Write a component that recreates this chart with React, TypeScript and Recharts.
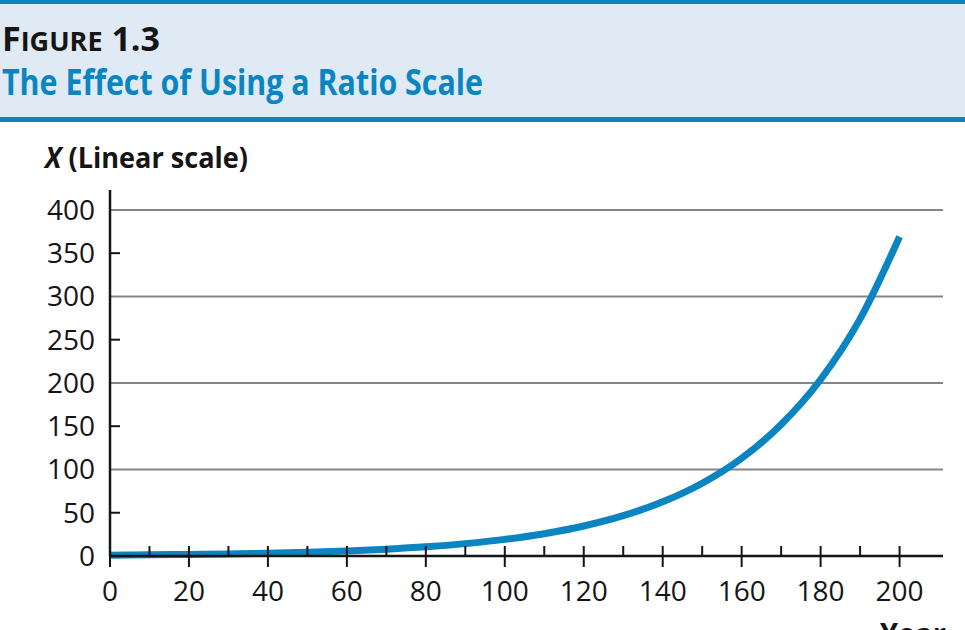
import React from 'react';
import { LineChart, Line, XAxis, YAxis, ReferenceLine, Label } from 'recharts';

// years on the horizontal axis, value of X
const years = [0, 10, 20, 30, 40, 50, 60, 70, 80, 90, 100, 110, 120, 130, 140, 150, 160, 170, 180, 190, 200];
const xValues = [1, 1.34, 1.81, 2.43, 3.26, 4.38, 5.89, 7.92, 10.6, 14.3, 19.2, 25.8, 34.7, 46.6, 62.6, 84.1, 113, 152, 204, 274, 369];

const yearTicks = [0, 10, 20, 30, 40, 50, 60, 70, 80, 90, 100, 110, 120, 130, 140, 150, 160, 170, 180, 190, 200];
const valueTicks = [0, 50, 100, 150, 200, 250, 300, 350, 400];
const gridValues = [100, 200, 300, 400];

const data = years.map((year, i) => ({ year, value: xValues[i] }));

const FONT = "'Open Sans', 'Noto Sans', sans-serif";
const INK = '#151515';
const BLUE = '#0b85c1';
const GRID = '#858585';

const XTick = (props: any) => {
  const { x, y, payload } = props;
  const v = payload.value;
  const major = v % 20 === 0;
  return (
    <g>
      <line x1={x} x2={x} y1={y - 10} y2={major ? y + 11 : y} stroke={INK} strokeWidth={2} />
      {major && (
        <text x={x} y={y + 45} textAnchor="middle" fontSize={28} fontWeight={500} fontFamily={FONT} fill={INK}>
          {v}
        </text>
      )}
    </g>
  );
};

const YTick = (props: any) => {
  const { x, y, payload } = props;
  const v = payload.value;
  const minor = v % 100 !== 0;
  return (
    <g>
      {minor && <line x1={x} x2={x + 10} y1={y} y2={y} stroke={INK} strokeWidth={2} />}
      <text x={x - 15} y={y + 10} textAnchor="end" fontSize={28} fontWeight={500} fontFamily={FONT} fill={INK}>
        {v}
      </text>
    </g>
  );
};

const YTitle = (props: any) => {
  const vb = props.viewBox || { x: 0, y: 190 };
  return (
    <text x={vb.x + 45} y={vb.y - 22} fontSize={29} fontWeight={700} fontFamily={FONT} fill={INK} textLength={203} lengthAdjust="spacingAndGlyphs">
      <tspan fontStyle="italic">X</tspan> (Linear scale)
    </text>
  );
};

const XTitle = (props: any) => {
  const vb = props.viewBox || { x: 110, y: 556, width: 833 };
  return (
    <text x={vb.x + vb.width - 63} y={vb.y + 88} fontSize={29} fontWeight={700} fontFamily={FONT} fill={INK}>
      Year
    </text>
  );
};

const App: React.FC = () => {
  return (
    <div style={{ position: 'absolute', left: 0, top: 0, width: 965, height: 630, background: '#fff', overflow: 'hidden' }}>
      {/* header band */}
      <svg width={965} height={125} style={{ position: 'absolute', left: 0, top: 0 }}>
        <rect x={0} y={0} width={965} height={122} fill="#dfeaf5" />
        <rect x={0} y={0} width={965} height={4} fill={BLUE} />
        <rect x={0} y={117} width={965} height={5} fill={BLUE} />
        <text x={2} y={51} fontFamily={FONT} fontWeight={700} fill={INK} textLength={158} lengthAdjust="spacingAndGlyphs">
          <tspan fontSize={34}>F</tspan>
          <tspan fontSize={27}>IGURE</tspan>
          <tspan fontSize={34}> 1.3</tspan>
        </text>
        <text x={2} y={95} fontFamily={FONT} fontWeight={700} fontSize={35} fill={BLUE} textLength={481} lengthAdjust="spacingAndGlyphs">
          The Effect of Using a Ratio Scale
        </text>
      </svg>

      <div style={{ position: 'absolute', left: 0, top: 0 }}>
        <LineChart width={965} height={630} data={data} margin={{ top: 190, right: 22, bottom: 14, left: 0 }}>
          {gridValues.map((g) => (
            <ReferenceLine key={g} y={g} stroke={GRID} strokeWidth={2} ifOverflow="extendDomain" />
          ))}
          <XAxis
            dataKey="year"
            type="number"
            domain={[0, 211]}
            ticks={yearTicks}
            interval={0}
            tickLine={false}
            tickSize={0}
            tickMargin={0}
            tick={<XTick />}
            height={60}
            axisLine={{ stroke: INK, strokeWidth: 2.5 }}
          >
            <Label content={<XTitle />} />
          </XAxis>
          <YAxis
            type="number"
            domain={[0, 423]}
            ticks={valueTicks}
            interval={0}
            tickLine={false}
            tickSize={0}
            tickMargin={0}
            tick={<YTick />}
            width={110}
            axisLine={{ stroke: INK, strokeWidth: 2.5 }}
          >
            <Label content={<YTitle />} />
          </YAxis>
          <Line
            type="monotone"
            dataKey="value"
            stroke={BLUE}
            strokeWidth={7}
            dot={false}
            activeDot={false}
            isAnimationActive={false}
          />
        </LineChart>
      </div>
    </div>
  );
};

export default App;
